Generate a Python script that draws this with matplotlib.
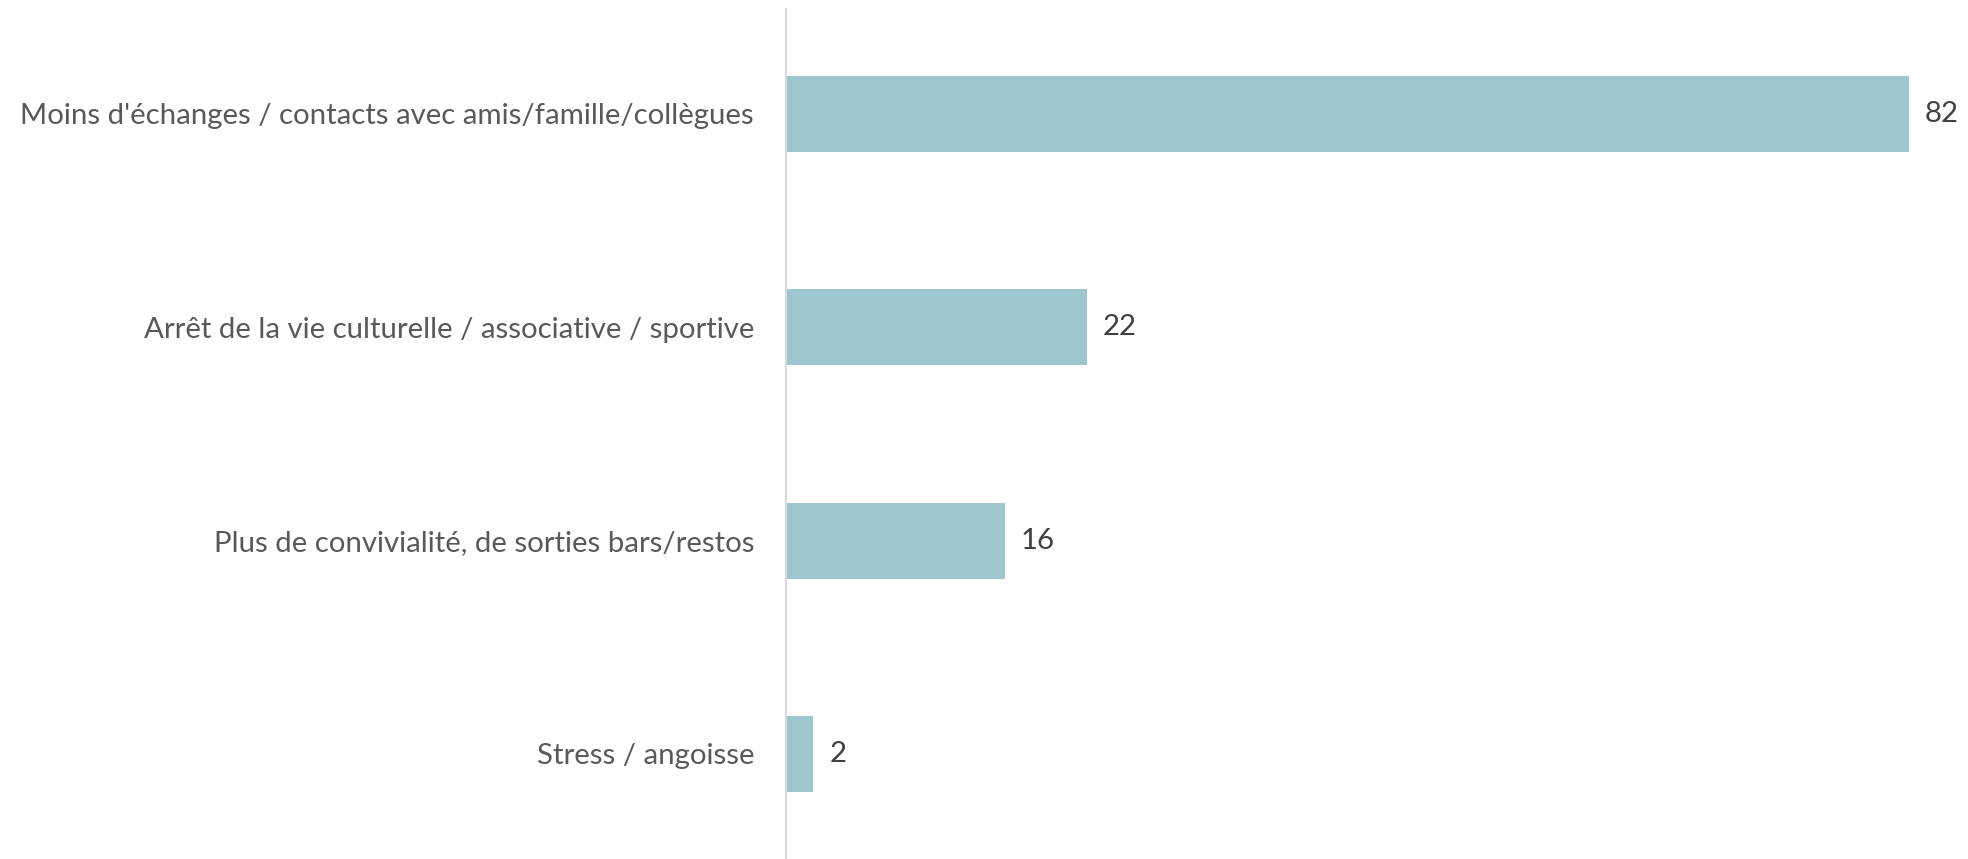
import matplotlib
matplotlib.use("Agg")
import matplotlib.pyplot as plt

categories = [
    "Moins d'échanges / contacts avec amis/famille/collègues",
    "Arrêt de la vie culturelle / associative / sportive",
    "Plus de convivialité, de sorties bars/restos",
    "Stress / angoisse",
]
values = [82, 22, 16, 2]

plt.rcParams['font.family'] = ['Lato', 'DejaVu Sans']

fig = plt.figure(figsize=(19.68, 8.59), dpi=100)
ax = fig.add_axes([786 / 1968, 0.0, (1948 - 786) / 1968, 1 - 9 / 859])

y = list(range(len(categories)))
ax.barh(y, values, height=0.356, color='#9DC6CE')

vals = []
for yi, v in zip(y, values):
    vals.append(ax.text(v + 1.15, yi, str(v), va='center', ha='left',
                        fontsize=19, color='#404040'))

ax.set_xlim(0, 1162 / 13.695)
ax.set_ylim(3.493, -0.492)
ax.set_yticks(y)
ax.set_yticklabels(categories, fontsize=19, color='#595959')
ax.tick_params(axis='y', length=0, pad=23)
ax.set_xticks([])

for s in ['top', 'right', 'bottom']:
    ax.spines[s].set_visible(False)
ax.spines['left'].set_color('#D9D9D9')
ax.spines['left'].set_linewidth(1.5)

# scale the font so the longest label spans about the same width as the original
fig.canvas.draw()
r = fig.canvas.get_renderer()
w = ax.get_yticklabels()[0].get_window_extent(r).width
fs = 19 * 734 / w
for t in ax.get_yticklabels():
    t.set_fontsize(fs)
for t in vals:
    t.set_fontsize(fs)

fig.savefig('out.png', dpi=100)
